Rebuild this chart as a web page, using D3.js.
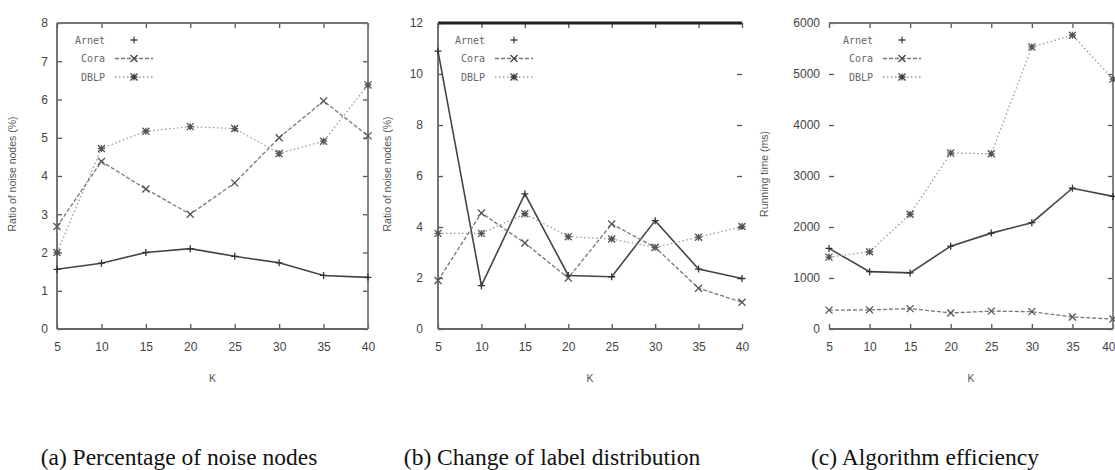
<!DOCTYPE html>
<html>
<head>
<meta charset="UTF-8">
<script src="https://cdn.jsdelivr.net/npm/d3@7"></script>
<style>
	body { margin: 0; background: #fff; overflow: hidden; }
	.tick text { font-family: "Liberation Sans", Arial, sans-serif; font-size: 12px; fill: #444; }
	.axis-title { font-family: "Liberation Sans", Arial, sans-serif; font-size: 10.5px; fill: #555; }
	.legend text { font-family: "DejaVu Sans Mono", monospace; font-size: 10px; fill: #666; }
	.caption { font-family: "Liberation Serif", "Times New Roman", serif; font-size: 23.5px; fill: #111; }
</style>
</head>
<body>
<script>
// x values shared by all panels
const kValues = [5, 10, 15, 20, 25, 30, 35, 40];
const seriesNames = ['Arnet', 'Cora', 'DBLP'];

// (a) ratio of noise nodes (%)
const noiseArnet = [1.56, 1.72, 2.0, 2.1, 1.9, 1.73, 1.4, 1.35];
const noiseCora  = [2.68, 4.38, 3.66, 3.0, 3.82, 5.0, 5.96, 5.05];
const noiseDblp  = [2.0, 4.72, 5.17, 5.29, 5.24, 4.59, 4.91, 6.38];

// (b) change of label distribution
const labelArnet = [10.9, 1.7, 5.3, 2.1, 2.05, 4.25, 2.35, 1.98];
const labelCora  = [1.9, 4.55, 3.37, 2.0, 4.12, 3.2, 1.6, 1.05];
const labelDblp  = [3.75, 3.75, 4.52, 3.62, 3.53, 3.2, 3.6, 4.02];

// (c) running time (ms)
const timeArnet = [1580, 1125, 1100, 1625, 1880, 2085, 2760, 2600];
const timeCora  = [370, 375, 400, 315, 350, 340, 235, 195];
const timeDblp  = [1410, 1515, 2250, 3450, 3435, 5530, 5760, 4900];

const yTicksA = d3.range(0, 9, 1);
const yTicksB = d3.range(0, 13, 2);
const yTicksC = d3.range(0, 7000, 1000);

const captions = ['(a) Percentage of noise nodes', '(b) Change of label distribution', '(c) Algorithm efficiency'];
const yTitles = ['Ratio of noise nodes (%)', 'Ratio of noise nodes (%)', 'Running time (ms)'];

const styles = [
	{stroke: '#444', dash: null, width: 1.6},
	{stroke: '#777', dash: '4,2', width: 1.3},
	{stroke: '#999', dash: '1.5,2.5', width: 1.3}
];

const svg = d3.select('body').append('svg')
	.attr('width', 1115)
	.attr('height', 470);

const panels = [
	{left: 57, right: 368, yMax: 8, ticks: yTicksA, series: [noiseArnet, noiseCora, noiseDblp],
	 titleX: 16, labelPad: 9, legendX: 105, capX: 179, borders: {top: 1, right: 1, left: 1}},
	{left: 438, right: 742, yMax: 12, ticks: yTicksB, series: [labelArnet, labelCora, labelDblp],
	 titleX: 391, labelPad: 15, legendX: 485, capX: 552, borders: {top: 3, right: 0, left: 1}},
	{left: 829, right: 1113, yMax: 6000, ticks: yTicksC, series: [timeArnet, timeCora, timeDblp],
	 titleX: 768, labelPad: 9, legendX: 873, capX: 925, borders: {top: 1, right: 1, left: 0}}
];

const plotTop = 23, plotBottom = 329;

function marker(s) {
	const r = 3.5;
	if (s === 0) return `M${-r},0H${r}M0,${-r}V${r}`;
	if (s === 1) return `M${-r},${-r}L${r},${r}M${-r},${r}L${r},${-r}`;
	return `M${-r},${-r}L${r},${r}M${-r},${r}L${r},${-r}M${-r},0H${r}M0,${-r}V${r}`;
}

panels.forEach((p, i) => {
	const g = svg.append('g');
	const x = d3.scaleLinear().domain([5, 40]).range([p.left, p.right]);
	const y = d3.scaleLinear().domain([0, p.yMax]).range([plotBottom, plotTop]);

	// axes with inward ticks
	const xAxis = g.append('g')
		.attr('transform', `translate(0,${plotBottom})`)
		.call(d3.axisBottom(x).tickValues(kValues).tickSize(-5).tickPadding(13));
	g.append('g')
		.attr('transform', `translate(${p.left},0)`)
		.call(d3.axisLeft(y).tickValues(p.ticks).tickSize(-5).tickPadding(p.labelPad).tickFormat(d3.format('d')));
	g.append('g')
		.attr('transform', `translate(0,${plotTop})`)
		.call(d3.axisTop(x).tickValues(kValues).tickSize(-5).tickFormat(''));
	g.append('g')
		.attr('transform', `translate(${p.right},0)`)
		.call(d3.axisRight(y).tickValues(p.ticks).tickSize(-5).tickFormat(''));

	// last label of the right panel sits at the page edge
	if (p.right > 1100) {
		xAxis.selectAll('.tick text').filter(d => d === 40)
			.attr('text-anchor', 'end').attr('x', 1115 - p.right);
	}

	g.selectAll('.domain').remove();
	g.selectAll('.tick line').attr('stroke', '#555').attr('stroke-width', 1.3);

	// frame
	g.append('line').attr('x1', p.left).attr('x2', p.right).attr('y1', plotBottom).attr('y2', plotBottom)
		.attr('stroke', '#666').attr('stroke-width', 2);
	g.append('line').attr('x1', p.left).attr('x2', p.right).attr('y1', plotTop).attr('y2', plotTop)
		.attr('stroke', p.borders.top > 1 ? '#222' : '#777').attr('stroke-width', p.borders.top > 1 ? 3 : 1.8);
	if (p.borders.left) {
		g.append('line').attr('x1', p.left).attr('x2', p.left).attr('y1', plotTop).attr('y2', plotBottom)
			.attr('stroke', '#666').attr('stroke-width', 1.8);
	}
	if (p.borders.right) {
		g.append('line').attr('x1', p.right).attr('x2', p.right).attr('y1', plotTop).attr('y2', plotBottom)
			.attr('stroke', '#777').attr('stroke-width', 1.8);
	}

	// series lines
	const line = d3.line().x((d, j) => x(kValues[j])).y(d => y(d));
	p.series.forEach((vals, s) => {
		const st = styles[s];
		g.append('path')
			.datum(vals)
			.attr('d', line)
			.attr('fill', 'none')
			.attr('stroke', st.stroke)
			.attr('stroke-width', st.width)
			.attr('stroke-dasharray', st.dash);
		g.append('g').selectAll('path')
			.data(vals)
			.join('path')
			.attr('transform', (d, j) => `translate(${x(kValues[j])},${y(d)})`)
			.attr('d', marker(s))
			.attr('fill', 'none')
			.attr('stroke', s === 0 ? '#333' : '#555')
			.attr('stroke-width', 1.3);
	});

	// legend
	const lg = g.append('g').attr('class', 'legend');
	seriesNames.forEach((name, s) => {
		const ly = 40 + s * 18.5;
		lg.append('text').attr('x', p.legendX).attr('y', ly + 3.5).attr('text-anchor', 'end').text(name);
		const st = styles[s];
		const lx0 = p.legendX + 10, lx1 = p.legendX + 48;
		if (s > 0) {
			lg.append('line').attr('x1', lx0).attr('x2', lx1).attr('y1', ly).attr('y2', ly)
				.attr('stroke', st.stroke).attr('stroke-width', st.width).attr('stroke-dasharray', st.dash);
		}
		lg.append('path').attr('transform', `translate(${(lx0 + lx1) / 2},${ly})`)
			.attr('d', marker(s))
			.attr('fill', 'none')
			.attr('stroke', '#444').attr('stroke-width', 1.3);
	});

	// titles
	g.append('text').attr('class', 'axis-title')
		.attr('x', (p.left + p.right) / 2).attr('y', 382)
		.attr('text-anchor', 'middle').text('K');
	g.append('text').attr('class', 'axis-title')
		.attr('transform', `translate(${p.titleX},${(plotTop + plotBottom) / 2 - 2}) rotate(-90)`)
		.attr('text-anchor', 'middle').text(yTitles[i]);
	g.append('text').attr('class', 'caption')
		.attr('x', p.capX).attr('y', 465)
		.attr('text-anchor', 'middle').text(captions[i]);
});
</script>
</body>
</html>
